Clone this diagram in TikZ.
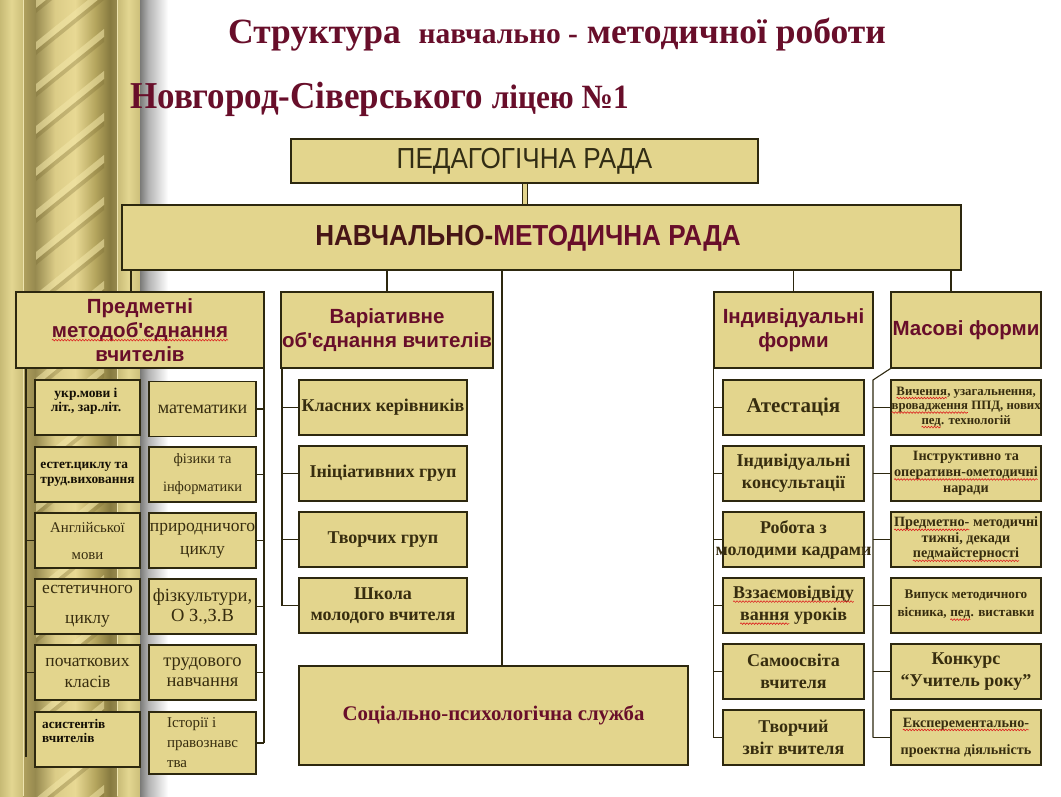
\documentclass[tikz,border=0pt]{standalone}
\usepackage{fontspec}
\setmainfont{Liberation Serif}
\newfontfamily\sansf{Liberation Sans}
\newfontfamily\nsans[FakeStretch=0.9]{Liberation Sans}
\newfontfamily\nserif[FakeStretch=0.92]{Liberation Serif}
\usetikzlibrary{calc,decorations.pathmorphing}
\definecolor{bf}{RGB}{227,213,141}
\definecolor{bd}{RGB}{45,40,15}
\definecolor{mr}{RGB}{104,14,42}
\definecolor{tx}{RGB}{55,45,15}
\definecolor{dk}{RGB}{70,22,22}
\definecolor{pedtx}{RGB}{50,45,20}
\definecolor{blk}{RGB}{20,15,5}
\definecolor{colline}{RGB}{238,228,175}
\definecolor{stripelight}{RGB}{242,230,168}
\definecolor{stripedark}{RGB}{120,105,50}
\definecolor{wavered}{RGB}{220,30,30}
\newcommand\redwave[1]{\tikz[baseline=(wv.base)]{\node[draw=none, fill=none, minimum width=0pt, minimum height=0pt, inner sep=0pt, outer sep=0pt] (wv) {#1}; \draw[wavered, line width=0.6pt, decorate, decoration={snake, amplitude=0.8pt, segment length=3pt}] ([yshift=-2.8pt]wv.base west) -- ([yshift=-2.8pt]wv.base east);}}
\pgfdeclarehorizontalshading{pillar}{100bp}{rgb(0bp)=(0.69,0.63,0.37); rgb(25bp)=(0.69,0.63,0.37); rgb(31.4bp)=(0.59,0.54,0.31); rgb(42bp)=(0.86,0.80,0.53); rgb(52.7bp)=(0.91,0.85,0.58); rgb(63.3bp)=(0.71,0.65,0.37); rgb(71.3bp)=(0.53,0.48,0.25); rgb(75bp)=(0.59,0.54,0.31); rgb(100bp)=(0.59,0.54,0.31)}
\pgfdeclarehorizontalshading{strip}{100bp}{rgb(0bp)=(0.78,0.73,0.46); rgb(25bp)=(0.78,0.73,0.46); rgb(50bp)=(0.89,0.84,0.57); rgb(75bp)=(0.80,0.75,0.48); rgb(100bp)=(0.80,0.75,0.48)}
\pgfdeclarehorizontalshading{shadow}{100bp}{rgb(0bp)=(0.48,0.48,0.47); rgb(25bp)=(0.48,0.48,0.47); rgb(40bp)=(0.70,0.70,0.70); rgb(75bp)=(1,1,1); rgb(100bp)=(1,1,1)}
\tikzset{
  box/.style={draw=bd, fill=bf, line width=1.1pt, inner sep=1pt, align=center, text=tx},
  hd/.style={box, inner sep=0pt, text=mr, font={\sansf\bfseries\fontsize{20.5}{24}\selectfont}},
  subA/.style={box, minimum width=105, minimum height=55},
  subB/.style={box, minimum width=107, minimum height=55},
  subV/.style={box, minimum width=168, minimum height=55, font={\bfseries\fontsize{18}{21}\selectfont}},
  subI/.style={box, minimum width=141, minimum height=55, font={\bfseries\fontsize{18}{22}\selectfont}},
  subM/.style={box, minimum width=150, minimum height=55},
  ln/.style={draw=bd, line width=1.1pt},
  pipe/.style={draw=bd, line width=1pt, double=bf, double distance=4pt}
}
\begin{document}
\begin{tikzpicture}[x=1pt,y=-1pt]
\useasboundingbox (0,0) rectangle (1061,796);
\fill[white] (0,0) rectangle (1061,796);
% decorative column
\shade[shading=strip] (0,0) rectangle (23,796);
\shade[shading=pillar] (23,0) rectangle (117,796);
\shade[shading=strip] (117,0) rectangle (140,796);
\shade[shading=shadow] (140,0) rectangle (168,796);
\begin{scope}
\clip (36,0) rectangle (104,796);
\foreach \k in {0,...,21}{
  \fill[stripelight, opacity=0.55] (36,\k*42) -- (104,\k*42-55) -- (104,\k*42-47) -- (36,\k*42+8) -- cycle;
  \fill[stripedark, opacity=0.3] (36,\k*42+8) -- (104,\k*42-47) -- (104,\k*42-42) -- (36,\k*42+13) -- cycle;
}
\end{scope}
\draw[colline, line width=0.8pt] (23,0) -- (23,796) (117,0) -- (117,796);

% titles
\node[anchor=base west, text=mr, inner sep=0] (t1) at (228,43)
  {\bfseries\fontsize{35.5}{40}\selectfont Структура\ \ {\fontsize{29.5}{30}\selectfont навчально -} методичної роботи};
\node[anchor=base west, text=mr, inner sep=0] (t2) at (130,108)
  {\nserif\bfseries\fontsize{38}{40}\selectfont Новгород-Сіверського {\fontsize{34}{40}\selectfont ліцею №1}};

% top boxes
\node[box, minimum width=467, minimum height=44, text=pedtx, font={\nsans\fontsize{29}{30}\selectfont}] (ped) at (524.5,161) {ПЕДАГОГІЧНА РАДА};
\node[box, minimum width=839, minimum height=65] (nmr) at (541.5,237.5) {};
\node[inner sep=0, font={\nsans\bfseries\fontsize{29}{30}\selectfont}] (nmrt) at (528,238) {\textcolor{dk}{НАВЧАЛЬНО-}\textcolor{mr}{МЕТОДИЧНА РАДА}};

\node[hd, minimum width=248, minimum height=76] (pm) at (140,330) {Предметні\\\redwave{методоб'єднання}\\вчителів};
\node[hd, minimum width=212, minimum height=76] (var) at (387,330) {Варіативне\\\makebox[210pt][c]{об'єднання вчителів}};
\node[hd, minimum width=159, minimum height=76] (ind) at (793.5,330) {Індивідуальні\\форми};
\node[hd, minimum width=150, minimum height=76] (mas) at (966,330) {Масові форми};

% column A
\node[subA] (a1) at (87.5,407.5) {};
\node[inner sep=0, align=center, text=blk, font={\bfseries\fontsize{13.5}{14}\selectfont}] (a1t) at (86,401) {укр.мови і\\літ., зар.літ.};
\node[subA, text=blk, align=left, font={\bfseries\fontsize{13.4}{15}\selectfont}] (a2) at (87.5,474.5) {естет.циклу та\\труд.виховання};
\node[subA, font={\fontsize{14.8}{27}\selectfont}] (a3) at (87.5,540.5) {Англійської\\мови};
\node[subA, font={\fontsize{17.5}{30}\selectfont}] (a4) at (87.5,606.5) {естетичного\\циклу};
\node[subA, font={\fontsize{17.5}{21}\selectfont}] (a5) at (87.5,672.5) {початкових\\класів};
\node[subA] (a6) at (87.5,739.5) {};
\node[inner sep=0, anchor=west, align=left, text=blk, font={\bfseries\fontsize{13.2}{14}\selectfont}] (a6t) at (42,731) {асистентів\\вчителів};

% column B
\node[subB, font={\fontsize{18}{20}\selectfont}] (b1) at (202.5,409) {математики};
\node[subB, font={\fontsize{14.4}{28}\selectfont}] (b2) at (202.5,474.5) {фізики та\\інформатики};
\node[subB, font={\fontsize{17.5}{23}\selectfont}] (b3) at (202.5,540.5) {\makebox[105pt][c]{природничого}\\циклу};
\node[subB, font={\fontsize{18.5}{20}\selectfont}] (b4) at (202.5,606.5) {\makebox[105pt][c]{фізкультури,}\\О З.,З.В};
\node[subB, font={\fontsize{18.5}{20}\selectfont}] (b5) at (202.5,672.5) {трудового\\навчання};
\node[subB, minimum height=62, align=left, font={\fontsize{15}{20}\selectfont}] (b6) at (202.5,743) {Історії і\\правознавс\\тва};

% variative
\node[subV] (v1) at (383,407.5) {Класних керівників};
\node[subV] (v2) at (383,473.5) {Ініціативних груп};
\node[subV] (v3) at (383,539.5) {Творчих груп};
\node[subV] (v4) at (383,605.5) {Школа\\молодого вчителя};

% individual
\node[subI, font={\bfseries\fontsize{21}{24}\selectfont}] (i1) at (793.5,407.5) {Атестація};
\node[subI] (i2) at (793.5,473.5) {Індивідуальні\\консультації};
\node[subI] (i3) at (793.5,539.5) {Робота з\\\makebox[139pt][c]{молодими кадрами}};
\node[subI] (i4) at (793.5,605.5) {\redwave{Вззаємовідвіду}\\\redwave{вання} уроків};
\node[subI] (i5) at (793.5,671.5) {Самоосвіта\\вчителя};
\node[subI] (i6) at (793.5,737.5) {Творчий\\звіт вчителя};

% mass
\node[subM, font={\bfseries\fontsize{12.8}{14.5}\selectfont}] (m1) at (966,407.5) {\redwave{Вичення}, узагальнення,\\\makebox[148pt][c]{\redwave{вровадження} ППД, нових}\\\redwave{пед}. технологій};
\node[subM, font={\bfseries\fontsize{14.2}{16}\selectfont}] (m2) at (966,473.5) {Інструктивно та\\\makebox[148pt][c]{\redwave{оперативн-ометодичні}}\\наради};
\node[subM, font={\bfseries\fontsize{14.2}{15.5}\selectfont}] (m3) at (966,539.5) {\makebox[148pt][c]{\redwave{Предметно-} методичні}\\тижні, декади\\\redwave{педмайстерності}};
\node[subM, font={\bfseries\fontsize{13.2}{18}\selectfont}] (m4) at (966,605.5) {Випуск методичного\\вісника, \redwave{пед}. виставки};
\node[subM, font={\bfseries\fontsize{18}{22}\selectfont}] (m5) at (966,671.5) {Конкурс\\“Учитель року”};
\node[subM, font={\bfseries\fontsize{14.2}{27}\selectfont}] (m6) at (966,737.5) {\redwave{Експерементально-}\\проектна діяльність};

% social
\node[box, minimum width=389, minimum height=99, text=mr, font={\bfseries\fontsize{20.8}{24}\selectfont}] (soc) at (493.5,715.5) {Соціально-психологічна служба};

% connectors
\draw[pipe] (ped.south) -- (ped.south |- nmr.north);
\coordinate (xpm) at (131,0);
\coordinate (xsoc) at (502,0);
\coordinate (xmas) at (951,0);
\draw[ln] (xpm |- nmr.south) -- (xpm |- pm.north);
\draw[ln] (var.north) -- (var.north |- nmr.south);
\draw[ln] (xsoc |- nmr.south) -- (xsoc |- soc.north);
\draw[ln] (ind.north) -- (ind.north |- nmr.south);
\draw[ln] (xmas |- nmr.south) -- (xmas |- mas.north);

\coordinate (sL) at (26,0);
\coordinate (sLend) at (26,757);
\draw[ln] (sL |- pm.south) -- (sLend);
\foreach \n in {a1,a2,a3,a4,a5} \draw[ln] (\n.west) -- (sL |- \n.west);

\coordinate (sR) at (264,0);
\draw[ln] (sR |- pm.south) -- (sR |- b6.east);
\foreach \n in {b1,b2,b3,b4,b5,b6} \draw[ln] (\n.east) -- (sR |- \n.east);

\coordinate (sV) at (282,0);
\draw[ln] (sV |- var.south) -- (sV |- v4.west);
\foreach \n in {v1,v2,v3,v4} \draw[ln] (\n.west) -- (sV |- \n.west);

\draw[ln] (ind.south west) -- (ind.south west |- i6.west);
\foreach \n in {i1,i2,i3,i4,i5,i6} \draw[ln] (\n.west) -- (ind.south west |- \n.west);

\coordinate (sM) at (873,380);
\draw[ln] (mas.south west) -- (sM) -- (sM |- m6.west);
\foreach \n in {m1,m2,m3,m4,m5,m6} \draw[ln] (\n.west) -- (sM |- \n.west);
\end{tikzpicture}
\end{document}
